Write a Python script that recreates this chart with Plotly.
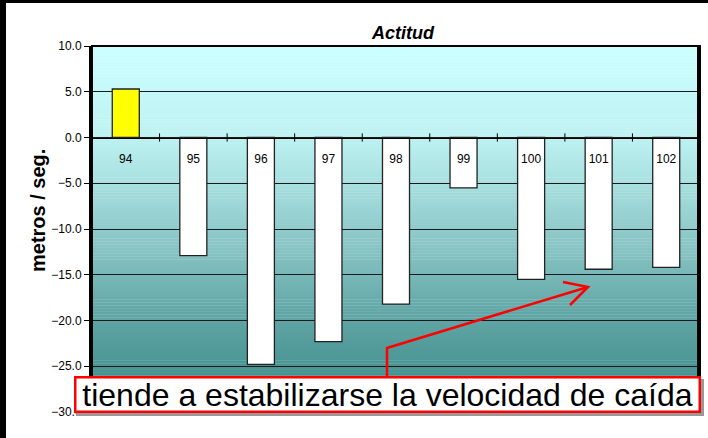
import plotly.graph_objects as go

# ---- data ----
categories = ["94", "95", "96", "97", "98", "99", "100", "101", "102"]
values = [5.3, -12.9, -24.8, -22.3, -18.2, -5.5, -15.5, -14.4, -14.2]
bar_colors = ["#FFFF00"] + ["#FFFFFF"] * 8
y_ticks = [10, 5, 0, -5, -10, -15, -20, -25, -30]
title_text = "Actitud"
y_title = "metros / seg."
note_text = "tiende a estabilizarse la velocidad de caída"

W, H = 708, 438
ML, MR, MT, MB = 92, 8, 46, 26
PW, PH = W - ML - MR, H - MT - MB
FONT = "Liberation Sans, Arial, sans-serif"


def px(x):
    return (x - ML) / PW


def py(y):
    return (H - MB - y) / PH


fig = go.Figure()
fig.add_trace(go.Bar(
    x=categories, y=values, width=0.4,
    marker=dict(color=bar_colors, line=dict(color="#222222", width=1.3)),
    hoverinfo="x+y", showlegend=False,
))

shapes = []
# gradient background (top light cyan -> bottom teal)
stops = [(0.0, (204, 255, 255)), (0.25, (190, 242, 242)), (0.55, (136, 196, 196)),
         (0.72, (100, 168, 168)), (1.0, (54, 134, 132))]


def col(t):
    for (t0, c0), (t1, c1) in zip(stops[:-1], stops[1:]):
        if t0 <= t <= t1:
            f = (t - t0) / (t1 - t0) if t1 > t0 else 0
            return "rgb(%d,%d,%d)" % tuple(round(a + (b - a) * f) for a, b in zip(c0, c1))
    return "rgb(%d,%d,%d)" % stops[-1][1]


N = 120
for i in range(N):
    t = (i + 0.5) / N
    shapes.append(dict(type="rect", xref="paper", yref="paper", x0=0, x1=1,
                       y0=1 - (i + 1) / N - 0.001, y1=1 - i / N,
                       fillcolor=col(t), line=dict(width=0), layer="below"))

# tick marks crossing the zero line at category boundaries
for i in range(len(categories) - 1):
    shapes.append(dict(type="line", xref="x", yref="y", x0=i + 0.5, x1=i + 0.5,
                       y0=-0.45, y1=0.45, line=dict(color="black", width=1), layer="above"))

# plot-area border
shapes.append(dict(type="rect", xref="paper", yref="paper", x0=0, x1=1, y0=0, y1=1,
                   line=dict(color="black", width=2), layer="above"))
shapes.append(dict(type="line", xref="paper", yref="paper", x0=px(698.5), x1=px(698.5),
                   y0=0, y1=1, line=dict(color="black", width=3), layer="above"))

# outer frame stripes (left and top)
shapes.append(dict(type="rect", xref="paper", yref="paper", x0=px(0), x1=px(6),
                   y0=py(H), y1=py(0), fillcolor="black", line=dict(width=0), layer="above"))
shapes.append(dict(type="rect", xref="paper", yref="paper", x0=px(0), x1=px(W),
                   y0=py(3), y1=py(0), fillcolor="black", line=dict(width=0), layer="above"))

# red arrow
red = "#FF0000"
shapes.append(dict(type="path", xref="paper", yref="paper",
                   path="M %f,%f L %f,%f L %f,%f" % (px(387), py(377), px(387), py(348), px(588), py(287)),
                   line=dict(color=red, width=2.5), layer="above"))
shapes.append(dict(type="path", xref="paper", yref="paper",
                   path="M %f,%f L %f,%f L %f,%f" % (px(563), py(282), px(588), py(287), px(570), py(305)),
                   line=dict(color=red, width=2.5), layer="above"))

# shadow of note box
shapes.append(dict(type="rect", xref="paper", yref="paper", x0=px(76), x1=px(704),
                   y0=py(416), y1=py(379), fillcolor="#999999", line=dict(width=0), layer="above"))

annotations = [
    dict(text="<b>" + y_title + "</b>", xref="paper", yref="paper", x=px(38), y=py(211),
         textangle=-90, showarrow=False, font=dict(family=FONT, size=20, color="black"),
         xanchor="center", yanchor="middle"),
    dict(text=note_text, xref="paper", yref="paper", x=px(387), y=py(394.5),
         xanchor="center", yanchor="middle", showarrow=False,
         width=622, height=32, bgcolor="white", bordercolor=red, borderwidth=2.5, borderpad=0,
         font=dict(family=FONT, size=32, color="black")),
]

fig.update_layout(
    width=W, height=H,
    margin=dict(l=ML, r=MR, t=MT, b=MB, pad=0),
    paper_bgcolor="white", plot_bgcolor="rgba(0,0,0,0)",
    title=dict(text="<b><i>" + title_text + "</i></b>", x=403 / W, xanchor="center",
               y=1 - 33 / H, yanchor="middle", font=dict(family=FONT, size=18, color="black")),
    font=dict(family=FONT, size=12, color="black"),
    bargap=0.6,
    xaxis=dict(type="category", anchor="free", position=0.75, showline=True,
               linecolor="black", linewidth=1, ticks="", showgrid=False,
               ticklabelstandoff=10, tickfont=dict(family=FONT, size=12, color="black"),
               fixedrange=True),
    yaxis=dict(range=[-30, 10], tickvals=y_ticks, tickformat=".1f", showgrid=True,
               gridcolor="#1a1a1a", gridwidth=1, zeroline=False, showline=True,
               linecolor="black", linewidth=3, ticks="outside", ticklen=5, tickcolor="black",
               tickfont=dict(family=FONT, size=12, color="black"), fixedrange=True),
    shapes=shapes,
    annotations=annotations,
)

fig.write_html("out.html", config={"displayModeBar": False},
               post_script="document.body.style.margin='0';document.body.style.overflow='hidden';")
